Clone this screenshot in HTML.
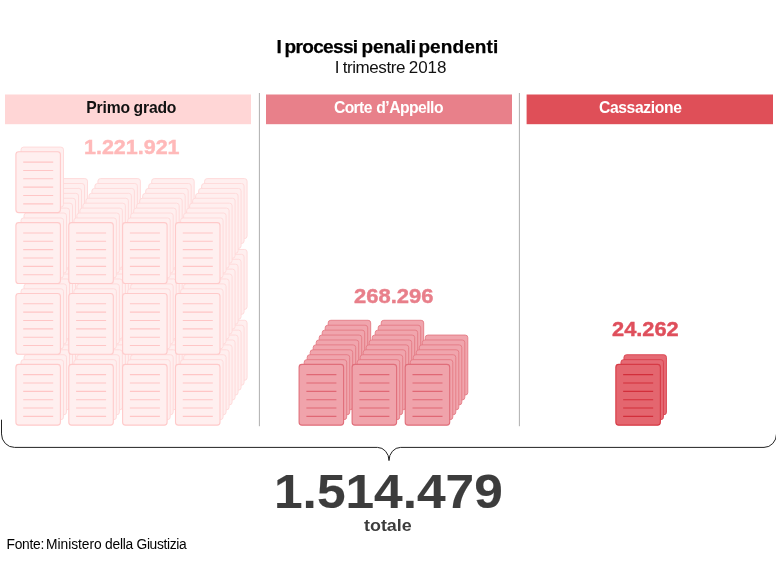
<!DOCTYPE html>
<html lang="it">
<head>
<meta charset="utf-8">
<title>I processi penali pendenti</title>
<style>
html,body{margin:0;padding:0;background:#fff;}
body{width:776px;height:578px;position:relative;overflow:hidden;font-family:"Liberation Sans",sans-serif;}
#n1,#n2,#n3{-webkit-text-stroke:0.4px currentColor;}
.g{position:absolute;left:0;top:0;width:0;height:0;}
#tot{-webkit-text-stroke:0.15px currentColor;}
#title{-webkit-text-stroke:0.25px currentColor;}
.t{position:absolute;white-space:nowrap;line-height:1;transform-origin:0 0;}
svg{position:absolute;left:0;top:0;}
</style>
</head>
<body>
<svg width="776" height="578" viewBox="0 0 776 578">
<rect x="5" y="94.5" width="246" height="29.7" fill="#ffd6d6"/>
<rect x="266" y="94.5" width="246" height="29.7" fill="#e8808a"/>
<rect x="526.6" y="94.5" width="246.4" height="29.7" fill="#df4f58"/>
<path d="M259.4 93V426.2M519.4 93V426.2" stroke="#999" stroke-width="0.8" fill="none"/>
<rect x="45" y="320.29" width="42.5" height="60" rx="2.6" fill="#ffefef" stroke="#ffd8d8" stroke-width="0.9"/>
<rect x="42" y="325.21" width="42.5" height="60" rx="2.6" fill="#ffefef" stroke="#ffd8d8" stroke-width="0.9"/>
<rect x="39" y="330.13" width="42.5" height="60" rx="2.6" fill="#ffefef" stroke="#ffd8d8" stroke-width="0.9"/>
<rect x="36" y="335.05" width="42.5" height="60" rx="2.6" fill="#ffefef" stroke="#ffd8d8" stroke-width="0.9"/>
<rect x="33" y="339.97" width="42.5" height="60" rx="2.6" fill="#ffefef" stroke="#ffd8d8" stroke-width="0.9"/>
<rect x="30" y="344.89" width="42.5" height="60" rx="2.6" fill="#ffefef" stroke="#ffd8d8" stroke-width="0.9"/>
<rect x="27" y="349.81" width="42.5" height="60" rx="2.6" fill="#ffefef" stroke="#ffd8d8" stroke-width="0.9"/>
<rect x="24" y="354.73" width="42.5" height="60" rx="2.6" fill="#ffefef" stroke="#ffd8d8" stroke-width="0.9"/>
<rect x="21" y="359.65" width="42.5" height="60" rx="2.6" fill="#ffefef" stroke="#ffd8d8" stroke-width="0.9"/>
<rect x="15.9" y="364.35" width="44.5" height="60.8" rx="2.8" fill="#ffefef" stroke="#ffcaca" stroke-width="1.1"/>
<path d="M23.2 374.65h30M23.2 383h30M23.2 391.35h30M23.2 399.7h30M23.2 408.05h30M23.2 416.4h30" stroke="#ffc6c6" stroke-width="1.1" fill="none"/>
<rect x="97.9" y="320.29" width="42.5" height="60" rx="2.6" fill="#ffefef" stroke="#ffd8d8" stroke-width="0.9"/>
<rect x="94.9" y="325.21" width="42.5" height="60" rx="2.6" fill="#ffefef" stroke="#ffd8d8" stroke-width="0.9"/>
<rect x="91.9" y="330.13" width="42.5" height="60" rx="2.6" fill="#ffefef" stroke="#ffd8d8" stroke-width="0.9"/>
<rect x="88.9" y="335.05" width="42.5" height="60" rx="2.6" fill="#ffefef" stroke="#ffd8d8" stroke-width="0.9"/>
<rect x="85.9" y="339.97" width="42.5" height="60" rx="2.6" fill="#ffefef" stroke="#ffd8d8" stroke-width="0.9"/>
<rect x="82.9" y="344.89" width="42.5" height="60" rx="2.6" fill="#ffefef" stroke="#ffd8d8" stroke-width="0.9"/>
<rect x="79.9" y="349.81" width="42.5" height="60" rx="2.6" fill="#ffefef" stroke="#ffd8d8" stroke-width="0.9"/>
<rect x="76.9" y="354.73" width="42.5" height="60" rx="2.6" fill="#ffefef" stroke="#ffd8d8" stroke-width="0.9"/>
<rect x="73.9" y="359.65" width="42.5" height="60" rx="2.6" fill="#ffefef" stroke="#ffd8d8" stroke-width="0.9"/>
<rect x="68.8" y="364.35" width="44.5" height="60.8" rx="2.8" fill="#ffefef" stroke="#ffcaca" stroke-width="1.1"/>
<path d="M76.1 374.65h30M76.1 383h30M76.1 391.35h30M76.1 399.7h30M76.1 408.05h30M76.1 416.4h30" stroke="#ffc6c6" stroke-width="1.1" fill="none"/>
<rect x="151.7" y="320.29" width="42.5" height="60" rx="2.6" fill="#ffefef" stroke="#ffd8d8" stroke-width="0.9"/>
<rect x="148.7" y="325.21" width="42.5" height="60" rx="2.6" fill="#ffefef" stroke="#ffd8d8" stroke-width="0.9"/>
<rect x="145.7" y="330.13" width="42.5" height="60" rx="2.6" fill="#ffefef" stroke="#ffd8d8" stroke-width="0.9"/>
<rect x="142.7" y="335.05" width="42.5" height="60" rx="2.6" fill="#ffefef" stroke="#ffd8d8" stroke-width="0.9"/>
<rect x="139.7" y="339.97" width="42.5" height="60" rx="2.6" fill="#ffefef" stroke="#ffd8d8" stroke-width="0.9"/>
<rect x="136.7" y="344.89" width="42.5" height="60" rx="2.6" fill="#ffefef" stroke="#ffd8d8" stroke-width="0.9"/>
<rect x="133.7" y="349.81" width="42.5" height="60" rx="2.6" fill="#ffefef" stroke="#ffd8d8" stroke-width="0.9"/>
<rect x="130.7" y="354.73" width="42.5" height="60" rx="2.6" fill="#ffefef" stroke="#ffd8d8" stroke-width="0.9"/>
<rect x="127.7" y="359.65" width="42.5" height="60" rx="2.6" fill="#ffefef" stroke="#ffd8d8" stroke-width="0.9"/>
<rect x="122.6" y="364.35" width="44.5" height="60.8" rx="2.8" fill="#ffefef" stroke="#ffcaca" stroke-width="1.1"/>
<path d="M129.9 374.65h30M129.9 383h30M129.9 391.35h30M129.9 399.7h30M129.9 408.05h30M129.9 416.4h30" stroke="#ffc6c6" stroke-width="1.1" fill="none"/>
<rect x="204.6" y="320.29" width="42.5" height="60" rx="2.6" fill="#ffefef" stroke="#ffd8d8" stroke-width="0.9"/>
<rect x="201.6" y="325.21" width="42.5" height="60" rx="2.6" fill="#ffefef" stroke="#ffd8d8" stroke-width="0.9"/>
<rect x="198.6" y="330.13" width="42.5" height="60" rx="2.6" fill="#ffefef" stroke="#ffd8d8" stroke-width="0.9"/>
<rect x="195.6" y="335.05" width="42.5" height="60" rx="2.6" fill="#ffefef" stroke="#ffd8d8" stroke-width="0.9"/>
<rect x="192.6" y="339.97" width="42.5" height="60" rx="2.6" fill="#ffefef" stroke="#ffd8d8" stroke-width="0.9"/>
<rect x="189.6" y="344.89" width="42.5" height="60" rx="2.6" fill="#ffefef" stroke="#ffd8d8" stroke-width="0.9"/>
<rect x="186.6" y="349.81" width="42.5" height="60" rx="2.6" fill="#ffefef" stroke="#ffd8d8" stroke-width="0.9"/>
<rect x="183.6" y="354.73" width="42.5" height="60" rx="2.6" fill="#ffefef" stroke="#ffd8d8" stroke-width="0.9"/>
<rect x="180.6" y="359.65" width="42.5" height="60" rx="2.6" fill="#ffefef" stroke="#ffd8d8" stroke-width="0.9"/>
<rect x="175.5" y="364.35" width="44.5" height="60.8" rx="2.8" fill="#ffefef" stroke="#ffcaca" stroke-width="1.1"/>
<path d="M182.8 374.65h30M182.8 383h30M182.8 391.35h30M182.8 399.7h30M182.8 408.05h30M182.8 416.4h30" stroke="#ffc6c6" stroke-width="1.1" fill="none"/>
<rect x="45" y="249.44" width="42.5" height="60" rx="2.6" fill="#ffefef" stroke="#ffd8d8" stroke-width="0.9"/>
<rect x="42" y="254.36" width="42.5" height="60" rx="2.6" fill="#ffefef" stroke="#ffd8d8" stroke-width="0.9"/>
<rect x="39" y="259.28" width="42.5" height="60" rx="2.6" fill="#ffefef" stroke="#ffd8d8" stroke-width="0.9"/>
<rect x="36" y="264.2" width="42.5" height="60" rx="2.6" fill="#ffefef" stroke="#ffd8d8" stroke-width="0.9"/>
<rect x="33" y="269.12" width="42.5" height="60" rx="2.6" fill="#ffefef" stroke="#ffd8d8" stroke-width="0.9"/>
<rect x="30" y="274.04" width="42.5" height="60" rx="2.6" fill="#ffefef" stroke="#ffd8d8" stroke-width="0.9"/>
<rect x="27" y="278.96" width="42.5" height="60" rx="2.6" fill="#ffefef" stroke="#ffd8d8" stroke-width="0.9"/>
<rect x="24" y="283.88" width="42.5" height="60" rx="2.6" fill="#ffefef" stroke="#ffd8d8" stroke-width="0.9"/>
<rect x="21" y="288.8" width="42.5" height="60" rx="2.6" fill="#ffefef" stroke="#ffd8d8" stroke-width="0.9"/>
<rect x="15.9" y="293.5" width="44.5" height="60.8" rx="2.8" fill="#ffefef" stroke="#ffcaca" stroke-width="1.1"/>
<path d="M23.2 303.8h30M23.2 312.15h30M23.2 320.5h30M23.2 328.85h30M23.2 337.2h30M23.2 345.55h30" stroke="#ffc6c6" stroke-width="1.1" fill="none"/>
<rect x="97.9" y="249.44" width="42.5" height="60" rx="2.6" fill="#ffefef" stroke="#ffd8d8" stroke-width="0.9"/>
<rect x="94.9" y="254.36" width="42.5" height="60" rx="2.6" fill="#ffefef" stroke="#ffd8d8" stroke-width="0.9"/>
<rect x="91.9" y="259.28" width="42.5" height="60" rx="2.6" fill="#ffefef" stroke="#ffd8d8" stroke-width="0.9"/>
<rect x="88.9" y="264.2" width="42.5" height="60" rx="2.6" fill="#ffefef" stroke="#ffd8d8" stroke-width="0.9"/>
<rect x="85.9" y="269.12" width="42.5" height="60" rx="2.6" fill="#ffefef" stroke="#ffd8d8" stroke-width="0.9"/>
<rect x="82.9" y="274.04" width="42.5" height="60" rx="2.6" fill="#ffefef" stroke="#ffd8d8" stroke-width="0.9"/>
<rect x="79.9" y="278.96" width="42.5" height="60" rx="2.6" fill="#ffefef" stroke="#ffd8d8" stroke-width="0.9"/>
<rect x="76.9" y="283.88" width="42.5" height="60" rx="2.6" fill="#ffefef" stroke="#ffd8d8" stroke-width="0.9"/>
<rect x="73.9" y="288.8" width="42.5" height="60" rx="2.6" fill="#ffefef" stroke="#ffd8d8" stroke-width="0.9"/>
<rect x="68.8" y="293.5" width="44.5" height="60.8" rx="2.8" fill="#ffefef" stroke="#ffcaca" stroke-width="1.1"/>
<path d="M76.1 303.8h30M76.1 312.15h30M76.1 320.5h30M76.1 328.85h30M76.1 337.2h30M76.1 345.55h30" stroke="#ffc6c6" stroke-width="1.1" fill="none"/>
<rect x="151.7" y="249.44" width="42.5" height="60" rx="2.6" fill="#ffefef" stroke="#ffd8d8" stroke-width="0.9"/>
<rect x="148.7" y="254.36" width="42.5" height="60" rx="2.6" fill="#ffefef" stroke="#ffd8d8" stroke-width="0.9"/>
<rect x="145.7" y="259.28" width="42.5" height="60" rx="2.6" fill="#ffefef" stroke="#ffd8d8" stroke-width="0.9"/>
<rect x="142.7" y="264.2" width="42.5" height="60" rx="2.6" fill="#ffefef" stroke="#ffd8d8" stroke-width="0.9"/>
<rect x="139.7" y="269.12" width="42.5" height="60" rx="2.6" fill="#ffefef" stroke="#ffd8d8" stroke-width="0.9"/>
<rect x="136.7" y="274.04" width="42.5" height="60" rx="2.6" fill="#ffefef" stroke="#ffd8d8" stroke-width="0.9"/>
<rect x="133.7" y="278.96" width="42.5" height="60" rx="2.6" fill="#ffefef" stroke="#ffd8d8" stroke-width="0.9"/>
<rect x="130.7" y="283.88" width="42.5" height="60" rx="2.6" fill="#ffefef" stroke="#ffd8d8" stroke-width="0.9"/>
<rect x="127.7" y="288.8" width="42.5" height="60" rx="2.6" fill="#ffefef" stroke="#ffd8d8" stroke-width="0.9"/>
<rect x="122.6" y="293.5" width="44.5" height="60.8" rx="2.8" fill="#ffefef" stroke="#ffcaca" stroke-width="1.1"/>
<path d="M129.9 303.8h30M129.9 312.15h30M129.9 320.5h30M129.9 328.85h30M129.9 337.2h30M129.9 345.55h30" stroke="#ffc6c6" stroke-width="1.1" fill="none"/>
<rect x="204.6" y="249.44" width="42.5" height="60" rx="2.6" fill="#ffefef" stroke="#ffd8d8" stroke-width="0.9"/>
<rect x="201.6" y="254.36" width="42.5" height="60" rx="2.6" fill="#ffefef" stroke="#ffd8d8" stroke-width="0.9"/>
<rect x="198.6" y="259.28" width="42.5" height="60" rx="2.6" fill="#ffefef" stroke="#ffd8d8" stroke-width="0.9"/>
<rect x="195.6" y="264.2" width="42.5" height="60" rx="2.6" fill="#ffefef" stroke="#ffd8d8" stroke-width="0.9"/>
<rect x="192.6" y="269.12" width="42.5" height="60" rx="2.6" fill="#ffefef" stroke="#ffd8d8" stroke-width="0.9"/>
<rect x="189.6" y="274.04" width="42.5" height="60" rx="2.6" fill="#ffefef" stroke="#ffd8d8" stroke-width="0.9"/>
<rect x="186.6" y="278.96" width="42.5" height="60" rx="2.6" fill="#ffefef" stroke="#ffd8d8" stroke-width="0.9"/>
<rect x="183.6" y="283.88" width="42.5" height="60" rx="2.6" fill="#ffefef" stroke="#ffd8d8" stroke-width="0.9"/>
<rect x="180.6" y="288.8" width="42.5" height="60" rx="2.6" fill="#ffefef" stroke="#ffd8d8" stroke-width="0.9"/>
<rect x="175.5" y="293.5" width="44.5" height="60.8" rx="2.8" fill="#ffefef" stroke="#ffcaca" stroke-width="1.1"/>
<path d="M182.8 303.8h30M182.8 312.15h30M182.8 320.5h30M182.8 328.85h30M182.8 337.2h30M182.8 345.55h30" stroke="#ffc6c6" stroke-width="1.1" fill="none"/>
<rect x="45" y="178.59" width="42.5" height="60" rx="2.6" fill="#ffefef" stroke="#ffd8d8" stroke-width="0.9"/>
<rect x="42" y="183.51" width="42.5" height="60" rx="2.6" fill="#ffefef" stroke="#ffd8d8" stroke-width="0.9"/>
<rect x="39" y="188.43" width="42.5" height="60" rx="2.6" fill="#ffefef" stroke="#ffd8d8" stroke-width="0.9"/>
<rect x="36" y="193.35" width="42.5" height="60" rx="2.6" fill="#ffefef" stroke="#ffd8d8" stroke-width="0.9"/>
<rect x="33" y="198.27" width="42.5" height="60" rx="2.6" fill="#ffefef" stroke="#ffd8d8" stroke-width="0.9"/>
<rect x="30" y="203.19" width="42.5" height="60" rx="2.6" fill="#ffefef" stroke="#ffd8d8" stroke-width="0.9"/>
<rect x="27" y="208.11" width="42.5" height="60" rx="2.6" fill="#ffefef" stroke="#ffd8d8" stroke-width="0.9"/>
<rect x="24" y="213.03" width="42.5" height="60" rx="2.6" fill="#ffefef" stroke="#ffd8d8" stroke-width="0.9"/>
<rect x="21" y="217.95" width="42.5" height="60" rx="2.6" fill="#ffefef" stroke="#ffd8d8" stroke-width="0.9"/>
<rect x="15.9" y="222.65" width="44.5" height="60.8" rx="2.8" fill="#ffefef" stroke="#ffcaca" stroke-width="1.1"/>
<path d="M23.2 232.95h30M23.2 241.3h30M23.2 249.65h30M23.2 258h30M23.2 266.35h30M23.2 274.7h30" stroke="#ffc6c6" stroke-width="1.1" fill="none"/>
<rect x="97.9" y="178.59" width="42.5" height="60" rx="2.6" fill="#ffefef" stroke="#ffd8d8" stroke-width="0.9"/>
<rect x="94.9" y="183.51" width="42.5" height="60" rx="2.6" fill="#ffefef" stroke="#ffd8d8" stroke-width="0.9"/>
<rect x="91.9" y="188.43" width="42.5" height="60" rx="2.6" fill="#ffefef" stroke="#ffd8d8" stroke-width="0.9"/>
<rect x="88.9" y="193.35" width="42.5" height="60" rx="2.6" fill="#ffefef" stroke="#ffd8d8" stroke-width="0.9"/>
<rect x="85.9" y="198.27" width="42.5" height="60" rx="2.6" fill="#ffefef" stroke="#ffd8d8" stroke-width="0.9"/>
<rect x="82.9" y="203.19" width="42.5" height="60" rx="2.6" fill="#ffefef" stroke="#ffd8d8" stroke-width="0.9"/>
<rect x="79.9" y="208.11" width="42.5" height="60" rx="2.6" fill="#ffefef" stroke="#ffd8d8" stroke-width="0.9"/>
<rect x="76.9" y="213.03" width="42.5" height="60" rx="2.6" fill="#ffefef" stroke="#ffd8d8" stroke-width="0.9"/>
<rect x="73.9" y="217.95" width="42.5" height="60" rx="2.6" fill="#ffefef" stroke="#ffd8d8" stroke-width="0.9"/>
<rect x="68.8" y="222.65" width="44.5" height="60.8" rx="2.8" fill="#ffefef" stroke="#ffcaca" stroke-width="1.1"/>
<path d="M76.1 232.95h30M76.1 241.3h30M76.1 249.65h30M76.1 258h30M76.1 266.35h30M76.1 274.7h30" stroke="#ffc6c6" stroke-width="1.1" fill="none"/>
<rect x="151.7" y="178.59" width="42.5" height="60" rx="2.6" fill="#ffefef" stroke="#ffd8d8" stroke-width="0.9"/>
<rect x="148.7" y="183.51" width="42.5" height="60" rx="2.6" fill="#ffefef" stroke="#ffd8d8" stroke-width="0.9"/>
<rect x="145.7" y="188.43" width="42.5" height="60" rx="2.6" fill="#ffefef" stroke="#ffd8d8" stroke-width="0.9"/>
<rect x="142.7" y="193.35" width="42.5" height="60" rx="2.6" fill="#ffefef" stroke="#ffd8d8" stroke-width="0.9"/>
<rect x="139.7" y="198.27" width="42.5" height="60" rx="2.6" fill="#ffefef" stroke="#ffd8d8" stroke-width="0.9"/>
<rect x="136.7" y="203.19" width="42.5" height="60" rx="2.6" fill="#ffefef" stroke="#ffd8d8" stroke-width="0.9"/>
<rect x="133.7" y="208.11" width="42.5" height="60" rx="2.6" fill="#ffefef" stroke="#ffd8d8" stroke-width="0.9"/>
<rect x="130.7" y="213.03" width="42.5" height="60" rx="2.6" fill="#ffefef" stroke="#ffd8d8" stroke-width="0.9"/>
<rect x="127.7" y="217.95" width="42.5" height="60" rx="2.6" fill="#ffefef" stroke="#ffd8d8" stroke-width="0.9"/>
<rect x="122.6" y="222.65" width="44.5" height="60.8" rx="2.8" fill="#ffefef" stroke="#ffcaca" stroke-width="1.1"/>
<path d="M129.9 232.95h30M129.9 241.3h30M129.9 249.65h30M129.9 258h30M129.9 266.35h30M129.9 274.7h30" stroke="#ffc6c6" stroke-width="1.1" fill="none"/>
<rect x="204.6" y="178.59" width="42.5" height="60" rx="2.6" fill="#ffefef" stroke="#ffd8d8" stroke-width="0.9"/>
<rect x="201.6" y="183.51" width="42.5" height="60" rx="2.6" fill="#ffefef" stroke="#ffd8d8" stroke-width="0.9"/>
<rect x="198.6" y="188.43" width="42.5" height="60" rx="2.6" fill="#ffefef" stroke="#ffd8d8" stroke-width="0.9"/>
<rect x="195.6" y="193.35" width="42.5" height="60" rx="2.6" fill="#ffefef" stroke="#ffd8d8" stroke-width="0.9"/>
<rect x="192.6" y="198.27" width="42.5" height="60" rx="2.6" fill="#ffefef" stroke="#ffd8d8" stroke-width="0.9"/>
<rect x="189.6" y="203.19" width="42.5" height="60" rx="2.6" fill="#ffefef" stroke="#ffd8d8" stroke-width="0.9"/>
<rect x="186.6" y="208.11" width="42.5" height="60" rx="2.6" fill="#ffefef" stroke="#ffd8d8" stroke-width="0.9"/>
<rect x="183.6" y="213.03" width="42.5" height="60" rx="2.6" fill="#ffefef" stroke="#ffd8d8" stroke-width="0.9"/>
<rect x="180.6" y="217.95" width="42.5" height="60" rx="2.6" fill="#ffefef" stroke="#ffd8d8" stroke-width="0.9"/>
<rect x="175.5" y="222.65" width="44.5" height="60.8" rx="2.8" fill="#ffefef" stroke="#ffcaca" stroke-width="1.1"/>
<path d="M182.8 232.95h30M182.8 241.3h30M182.8 249.65h30M182.8 258h30M182.8 266.35h30M182.8 274.7h30" stroke="#ffc6c6" stroke-width="1.1" fill="none"/>
<rect x="21" y="147.1" width="42.5" height="60" rx="2.6" fill="#ffefef" stroke="#ffd8d8" stroke-width="0.9"/>
<rect x="15.9" y="151.8" width="44.5" height="60.8" rx="2.8" fill="#ffefef" stroke="#ffcaca" stroke-width="1.1"/>
<path d="M23.2 162.1h30M23.2 170.45h30M23.2 178.8h30M23.2 187.15h30M23.2 195.5h30M23.2 203.85h30" stroke="#ffc6c6" stroke-width="1.1" fill="none"/>
<rect x="328.2" y="320.29" width="42.5" height="60" rx="2.6" fill="#f0a5ad" stroke="#e47a85" stroke-width="0.9"/>
<rect x="325.2" y="325.21" width="42.5" height="60" rx="2.6" fill="#f0a5ad" stroke="#e47a85" stroke-width="0.9"/>
<rect x="322.2" y="330.13" width="42.5" height="60" rx="2.6" fill="#f0a5ad" stroke="#e47a85" stroke-width="0.9"/>
<rect x="319.2" y="335.05" width="42.5" height="60" rx="2.6" fill="#f0a5ad" stroke="#e47a85" stroke-width="0.9"/>
<rect x="316.2" y="339.97" width="42.5" height="60" rx="2.6" fill="#f0a5ad" stroke="#e47a85" stroke-width="0.9"/>
<rect x="313.2" y="344.89" width="42.5" height="60" rx="2.6" fill="#f0a5ad" stroke="#e47a85" stroke-width="0.9"/>
<rect x="310.2" y="349.81" width="42.5" height="60" rx="2.6" fill="#f0a5ad" stroke="#e47a85" stroke-width="0.9"/>
<rect x="307.2" y="354.73" width="42.5" height="60" rx="2.6" fill="#f0a5ad" stroke="#e47a85" stroke-width="0.9"/>
<rect x="304.2" y="359.65" width="42.5" height="60" rx="2.6" fill="#f0a5ad" stroke="#e47a85" stroke-width="0.9"/>
<rect x="299.1" y="364.35" width="44.5" height="60.8" rx="2.8" fill="#f0a3ab" stroke="#e06e7a" stroke-width="1.1"/>
<path d="M306.4 374.65h30M306.4 383h30M306.4 391.35h30M306.4 399.7h30M306.4 408.05h30M306.4 416.4h30" stroke="#e06875" stroke-width="1.1" fill="none"/>
<rect x="381.2" y="320.29" width="42.5" height="60" rx="2.6" fill="#f0a5ad" stroke="#e47a85" stroke-width="0.9"/>
<rect x="378.2" y="325.21" width="42.5" height="60" rx="2.6" fill="#f0a5ad" stroke="#e47a85" stroke-width="0.9"/>
<rect x="375.2" y="330.13" width="42.5" height="60" rx="2.6" fill="#f0a5ad" stroke="#e47a85" stroke-width="0.9"/>
<rect x="372.2" y="335.05" width="42.5" height="60" rx="2.6" fill="#f0a5ad" stroke="#e47a85" stroke-width="0.9"/>
<rect x="369.2" y="339.97" width="42.5" height="60" rx="2.6" fill="#f0a5ad" stroke="#e47a85" stroke-width="0.9"/>
<rect x="366.2" y="344.89" width="42.5" height="60" rx="2.6" fill="#f0a5ad" stroke="#e47a85" stroke-width="0.9"/>
<rect x="363.2" y="349.81" width="42.5" height="60" rx="2.6" fill="#f0a5ad" stroke="#e47a85" stroke-width="0.9"/>
<rect x="360.2" y="354.73" width="42.5" height="60" rx="2.6" fill="#f0a5ad" stroke="#e47a85" stroke-width="0.9"/>
<rect x="357.2" y="359.65" width="42.5" height="60" rx="2.6" fill="#f0a5ad" stroke="#e47a85" stroke-width="0.9"/>
<rect x="352.1" y="364.35" width="44.5" height="60.8" rx="2.8" fill="#f0a3ab" stroke="#e06e7a" stroke-width="1.1"/>
<path d="M359.4 374.65h30M359.4 383h30M359.4 391.35h30M359.4 399.7h30M359.4 408.05h30M359.4 416.4h30" stroke="#e06875" stroke-width="1.1" fill="none"/>
<rect x="425.3" y="335.05" width="42.5" height="60" rx="2.6" fill="#f0a5ad" stroke="#e47a85" stroke-width="0.9"/>
<rect x="422.3" y="339.97" width="42.5" height="60" rx="2.6" fill="#f0a5ad" stroke="#e47a85" stroke-width="0.9"/>
<rect x="419.3" y="344.89" width="42.5" height="60" rx="2.6" fill="#f0a5ad" stroke="#e47a85" stroke-width="0.9"/>
<rect x="416.3" y="349.81" width="42.5" height="60" rx="2.6" fill="#f0a5ad" stroke="#e47a85" stroke-width="0.9"/>
<rect x="413.3" y="354.73" width="42.5" height="60" rx="2.6" fill="#f0a5ad" stroke="#e47a85" stroke-width="0.9"/>
<rect x="410.3" y="359.65" width="42.5" height="60" rx="2.6" fill="#f0a5ad" stroke="#e47a85" stroke-width="0.9"/>
<rect x="405.2" y="364.35" width="44.5" height="60.8" rx="2.8" fill="#f0a3ab" stroke="#e06e7a" stroke-width="1.1"/>
<path d="M412.5 374.65h30M412.5 383h30M412.5 391.35h30M412.5 399.7h30M412.5 408.05h30M412.5 416.4h30" stroke="#e06875" stroke-width="1.1" fill="none"/>
<rect x="623.95" y="354.73" width="42.5" height="60" rx="2.6" fill="#e56a74" stroke="#d9414c" stroke-width="0.9"/>
<rect x="620.95" y="359.65" width="42.5" height="60" rx="2.6" fill="#e56a74" stroke="#d9414c" stroke-width="0.9"/>
<rect x="615.85" y="364.35" width="44.5" height="60.8" rx="2.8" fill="#e4666f" stroke="#d63a45" stroke-width="1.1"/>
<path d="M623.15 374.65h30M623.15 383h30M623.15 391.35h30M623.15 399.7h30M623.15 408.05h30M623.15 416.4h30" stroke="#d22f3b" stroke-width="1.1" fill="none"/>
<path d="M1.5 419.7V433.9A13 13.5 0 0 0 14.5 447.4H377.5A11.5 13.2 0 0 1 389 460.6A11.6 13.2 0 0 1 400.6 447.4H764A12.5 13.5 0 0 0 776.5 433.9V419.7" stroke="#222" stroke-width="1" fill="none"/>
</svg>
<div class="g" id="title" style="font-weight:bold;color:#000"><span class="t" id="title_0" style="left:276.44px;top:36.9px;font-size:19px">I</span> <span class="t" id="title_1" style="left:284.59px;top:36.9px;font-size:19px;letter-spacing:-0.667px">processi</span> <span class="t" id="title_2" style="left:361.43px;top:36.9px;font-size:19px;letter-spacing:-0.048px">penali</span> <span class="t" id="title_3" style="left:418.39px;top:36.9px;font-size:19px;letter-spacing:0.106px">pendenti</span></div>
<div class="g" id="sub" style="color:#111"><span class="t" id="sub_0" style="left:334.68px;top:58.9px;font-size:17px">I</span> <span class="t" id="sub_1" style="left:342.77px;top:58.9px;font-size:17px;letter-spacing:-0.436px">trimestre</span> <span class="t" id="sub_2" style="left:408.83px;top:58.9px;font-size:17px;letter-spacing:-0.095px">2018</span></div>
<div class="g" id="h1" style="font-weight:bold;color:#111"><span class="t" id="h1_0" style="left:86.19px;top:99.55px;font-size:15.7px;letter-spacing:-0.153px">Primo</span> <span class="t" id="h1_1" style="left:133.58px;top:99.55px;font-size:15.7px;letter-spacing:-0.190px">grado</span></div>
<div class="g" id="h2" style="font-weight:bold;color:#fff"><span class="t" id="h2_0" style="left:333.93px;top:99.55px;font-size:15.7px;letter-spacing:-0.607px">Corte</span> <span class="t" id="h2_1" style="left:376.31px;top:99.55px;font-size:15.7px;letter-spacing:-0.530px">d’Appello</span></div>
<div class="g" id="h3" style="font-weight:bold;color:#fff"><span class="t" id="h3_0" style="left:598.93px;top:99.55px;font-size:15.7px;letter-spacing:-0.364px">Cassazione</span></div>
<div class="g" id="n1" style="font-weight:bold;color:#ffb9b9"><span class="t" id="n1_0" style="left:83.66px;top:137.8px;font-size:19.8px;transform:scaleX(1.0860)">1.221.921</span></div>
<div class="g" id="n2" style="font-weight:bold;color:#e87f8a"><span class="t" id="n2_0" style="left:353.92px;top:287.3px;font-size:19.8px;transform:scaleX(1.1112)">268.296</span></div>
<div class="g" id="n3" style="font-weight:bold;color:#df4f5c"><span class="t" id="n3_0" style="left:611.79px;top:319.5px;font-size:19.8px;transform:scaleX(1.1025)">24.262</span></div>
<div class="g" id="tot" style="font-weight:bold;color:#3c3c3c"><span class="t" id="tot_0" style="left:273.76px;top:467.6px;font-size:47.9px;transform:scaleX(1.0737)">1.514.479</span></div>
<div class="g" id="totl" style="font-weight:bold;color:#3c3c3c"><span class="t" id="totl_0" style="left:363.97px;top:517.25px;font-size:17px;transform:scaleX(1.0525)">totale</span></div>
<div class="g" id="src" style="color:#000"><span class="t" id="src_0" style="left:6.48px;top:537.8px;font-size:13.8px;letter-spacing:-0.238px">Fonte:</span> <span class="t" id="src_1" style="left:46.11px;top:537.8px;font-size:13.8px;letter-spacing:-0.048px">Ministero</span> <span class="t" id="src_2" style="left:105.05px;top:537.8px;font-size:13.8px;letter-spacing:-0.239px">della</span> <span class="t" id="src_3" style="left:136.5px;top:537.8px;font-size:13.8px;letter-spacing:-0.348px">Giustizia</span></div>
</body>
</html>
